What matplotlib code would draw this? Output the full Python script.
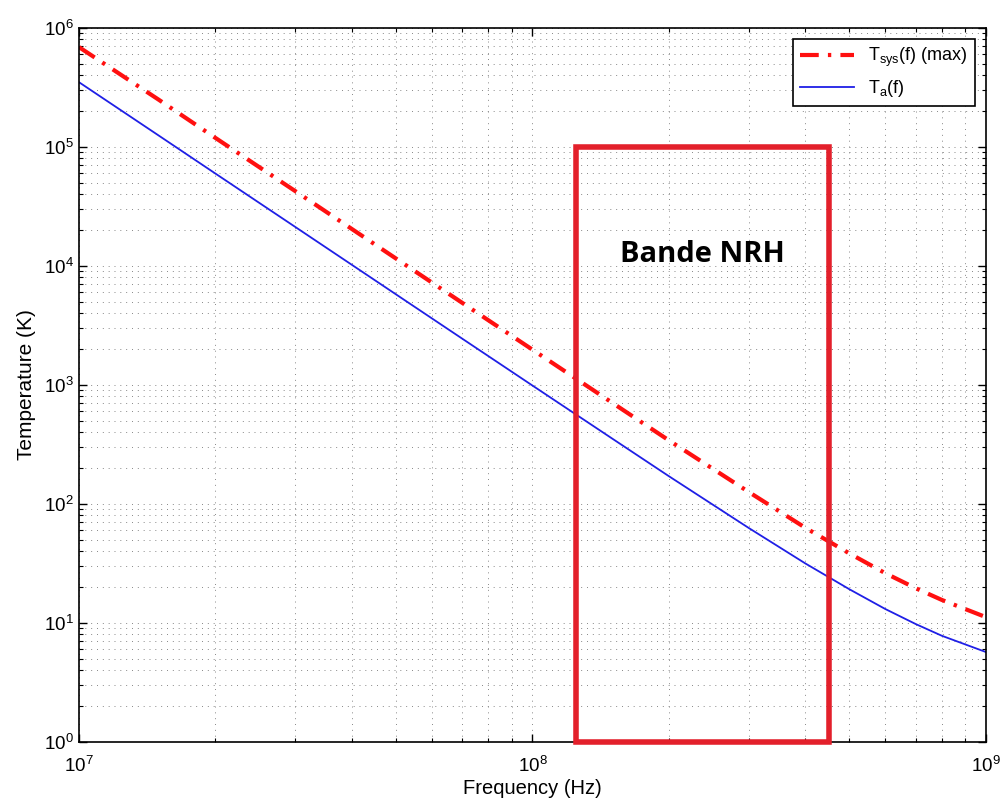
import matplotlib
matplotlib.use("Agg")
import matplotlib.pyplot as plt
import matplotlib.patches as mpatches
from matplotlib.ticker import LogLocator, NullFormatter

plt.rcParams["font.family"] = ["Liberation Sans", "DejaVu Sans"]
plt.rcParams["mathtext.fontset"] = "custom"
plt.rcParams["mathtext.rm"] = "Liberation Sans"
plt.rcParams["mathtext.it"] = "Liberation Sans"

# Valeurs (Hz, K)
freq = [1e7, 1.5e7, 2e7, 3e7, 5e7, 7e7, 1e8, 1.5e8, 2e8, 3e8, 4e8, 5e8, 6e8, 7e8, 8e8, 1e9]
t_a = [3.5e5, 1.245e5, 5.97e4, 2.125e4, 5775, 2450, 989, 354, 171, 62.8, 31.6, 19.2, 13.1, 9.8, 7.8, 5.7]
t_sys = [6.9e5, 2.49e5, 1.19e5, 4.25e4, 1.155e4, 4900, 1980, 708, 342, 126, 63, 38.4, 26.2, 19.6, 15.6, 11.2]

# Bande NRH
bande_min = 1.25e8
bande_max = 4.5e8
bande_top = 1e5

fig = plt.figure(figsize=(10.01, 8.05), dpi=100)
ax = fig.add_axes([0.0789, 0.0783, 0.906, 0.887])

ax.plot(freq, t_sys, color="#ff1010", linestyle=(0, (4.5, 2.2, 0.8, 2.2)), linewidth=3,
        label=r"T$_{\rm sys}$(f) (max)")
ax.plot(freq, t_a, color="#1f1fe6", linewidth=1.3, label=r"T$_{\rm a}$(f)")

ax.set_xscale("log")
ax.set_yscale("log")
ax.set_xlim(1e7, 1e9)
ax.set_ylim(1e0, 1e6)

for axis in (ax.xaxis, ax.yaxis):
    axis.set_major_locator(LogLocator(base=10, numticks=20))
    axis.set_minor_locator(LogLocator(base=10, subs=range(2, 10), numticks=20))
    axis.set_minor_formatter(NullFormatter())

ax.tick_params(which="both", direction="in", top=True, right=True, labelsize=13.5)
ax.tick_params(which="major", length=6, width=1)
ax.tick_params(which="minor", length=3, width=0.8)
ax.tick_params(axis="x", pad=10)

ax.grid(which="both", linestyle=(0, (1, 5)), color="#888888", linewidth=0.7)

for sp in ax.spines.values():
    sp.set_linewidth(1.2)

ax.set_xlabel("Frequency (Hz)", fontsize=14.5, labelpad=2)
ax.set_ylabel("Temperature (K)", fontsize=15, labelpad=6)

rect = mpatches.Rectangle((bande_min, 1e0), bande_max - bande_min, bande_top - 1e0,
                          fill=False, edgecolor="#e3202b", linewidth=4, clip_on=False, zorder=5)
ax.add_patch(rect)
ax.text(2.37e8, 1.25e4, "Bande NRH", fontsize=21, fontweight="bold", family="Open Sans",
        ha="center", va="center", zorder=6)

leg = ax.legend(loc="upper right", fontsize=13, fancybox=False, framealpha=1,
                edgecolor="black", handlelength=3, borderaxespad=0.6)
leg.get_frame().set_linewidth(1.2)

fig.savefig("out.png", dpi=100)
